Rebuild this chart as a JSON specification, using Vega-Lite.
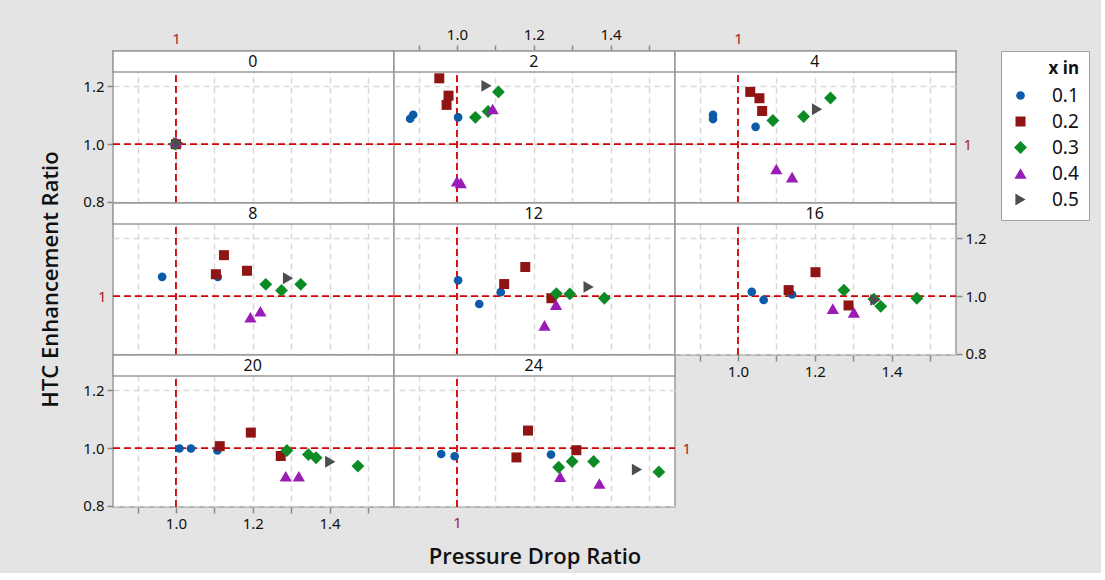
{
  "$schema": "https://vega.github.io/schema/vega-lite/v6.json",
  "background": "#e4e4e4",
  "padding": {"left": 38, "top": 26, "right": 11, "bottom": 5},
  "columns": 3,
  "spacing": 0,
  "bounds": "flush",
  "datasets": {
    "pts": [
      {"panel": "0", "x in": "0.1", "px": 1.0, "py": 1.0},
      {"panel": "0", "x in": "0.2", "px": 1.0, "py": 1.0},
      {"panel": "0", "x in": "0.3", "px": 0.998, "py": 1.0},
      {"panel": "0", "x in": "0.4", "px": 1.0, "py": 1.008},
      {"panel": "0", "x in": "0.5", "px": 1.006, "py": 1.004},

      {"panel": "2", "x in": "0.1", "px": 0.878, "py": 1.088},
      {"panel": "2", "x in": "0.1", "px": 0.886, "py": 1.102},
      {"panel": "2", "x in": "0.1", "px": 1.003, "py": 1.093},
      {"panel": "2", "x in": "0.2", "px": 0.954, "py": 1.228},
      {"panel": "2", "x in": "0.2", "px": 0.978, "py": 1.168},
      {"panel": "2", "x in": "0.2", "px": 0.973, "py": 1.136},
      {"panel": "2", "x in": "0.3", "px": 1.048, "py": 1.093},
      {"panel": "2", "x in": "0.3", "px": 1.081, "py": 1.113},
      {"panel": "2", "x in": "0.3", "px": 1.108, "py": 1.181},
      {"panel": "2", "x in": "0.4", "px": 1.093, "py": 1.122},
      {"panel": "2", "x in": "0.4", "px": 1.0, "py": 0.872},
      {"panel": "2", "x in": "0.4", "px": 1.01, "py": 0.866},
      {"panel": "2", "x in": "0.5", "px": 1.077, "py": 1.202},

      {"panel": "4", "x in": "0.1", "px": 0.935, "py": 1.102},
      {"panel": "4", "x in": "0.1", "px": 0.935, "py": 1.087},
      {"panel": "4", "x in": "0.1", "px": 1.046, "py": 1.06},
      {"panel": "4", "x in": "0.2", "px": 1.032, "py": 1.181},
      {"panel": "4", "x in": "0.2", "px": 1.056, "py": 1.159},
      {"panel": "4", "x in": "0.2", "px": 1.063, "py": 1.115},
      {"panel": "4", "x in": "0.3", "px": 1.091, "py": 1.082},
      {"panel": "4", "x in": "0.3", "px": 1.171, "py": 1.096},
      {"panel": "4", "x in": "0.3", "px": 1.241, "py": 1.16},
      {"panel": "4", "x in": "0.4", "px": 1.1, "py": 0.914},
      {"panel": "4", "x in": "0.4", "px": 1.141, "py": 0.886},
      {"panel": "4", "x in": "0.5", "px": 1.206, "py": 1.121},

      {"panel": "8", "x in": "0.1", "px": 0.964, "py": 1.067},
      {"panel": "8", "x in": "0.1", "px": 1.109, "py": 1.067},
      {"panel": "8", "x in": "0.2", "px": 1.125, "py": 1.142},
      {"panel": "8", "x in": "0.2", "px": 1.104, "py": 1.076},
      {"panel": "8", "x in": "0.2", "px": 1.185, "py": 1.088},
      {"panel": "8", "x in": "0.3", "px": 1.234, "py": 1.041},
      {"panel": "8", "x in": "0.3", "px": 1.275, "py": 1.02},
      {"panel": "8", "x in": "0.3", "px": 1.325, "py": 1.041},
      {"panel": "8", "x in": "0.4", "px": 1.194, "py": 0.927},
      {"panel": "8", "x in": "0.4", "px": 1.22, "py": 0.948},
      {"panel": "8", "x in": "0.5", "px": 1.292, "py": 1.062},

      {"panel": "12", "x in": "0.1", "px": 1.003, "py": 1.055},
      {"panel": "12", "x in": "0.1", "px": 1.058, "py": 0.973},
      {"panel": "12", "x in": "0.1", "px": 1.114, "py": 1.014},
      {"panel": "12", "x in": "0.2", "px": 1.123, "py": 1.042},
      {"panel": "12", "x in": "0.2", "px": 1.178, "py": 1.101},
      {"panel": "12", "x in": "0.2", "px": 1.246, "py": 0.993},
      {"panel": "12", "x in": "0.3", "px": 1.259, "py": 1.009},
      {"panel": "12", "x in": "0.3", "px": 1.294, "py": 1.008},
      {"panel": "12", "x in": "0.3", "px": 1.384, "py": 0.993},
      {"panel": "12", "x in": "0.4", "px": 1.258, "py": 0.971},
      {"panel": "12", "x in": "0.4", "px": 1.228, "py": 0.899},
      {"panel": "12", "x in": "0.5", "px": 1.343, "py": 1.032},

      {"panel": "16", "x in": "0.1", "px": 1.036, "py": 1.015},
      {"panel": "16", "x in": "0.1", "px": 1.067, "py": 0.987},
      {"panel": "16", "x in": "0.1", "px": 1.141, "py": 1.006},
      {"panel": "16", "x in": "0.2", "px": 1.132, "py": 1.021},
      {"panel": "16", "x in": "0.2", "px": 1.202, "py": 1.083},
      {"panel": "16", "x in": "0.2", "px": 1.288, "py": 0.968},
      {"panel": "16", "x in": "0.3", "px": 1.276, "py": 1.021},
      {"panel": "16", "x in": "0.3", "px": 1.354, "py": 0.99},
      {"panel": "16", "x in": "0.3", "px": 1.372, "py": 0.965},
      {"panel": "16", "x in": "0.3", "px": 1.466, "py": 0.993},
      {"panel": "16", "x in": "0.4", "px": 1.247, "py": 0.957},
      {"panel": "16", "x in": "0.4", "px": 1.302, "py": 0.944},
      {"panel": "16", "x in": "0.5", "px": 1.358, "py": 0.987},

      {"panel": "20", "x in": "0.1", "px": 1.009, "py": 0.999},
      {"panel": "20", "x in": "0.1", "px": 1.039, "py": 0.999},
      {"panel": "20", "x in": "0.1", "px": 1.108, "py": 0.992},
      {"panel": "20", "x in": "0.2", "px": 1.114, "py": 1.007},
      {"panel": "20", "x in": "0.2", "px": 1.195, "py": 1.054},
      {"panel": "20", "x in": "0.2", "px": 1.273, "py": 0.973},
      {"panel": "20", "x in": "0.3", "px": 1.289, "py": 0.992},
      {"panel": "20", "x in": "0.3", "px": 1.345, "py": 0.978},
      {"panel": "20", "x in": "0.3", "px": 1.365, "py": 0.967},
      {"panel": "20", "x in": "0.3", "px": 1.474, "py": 0.938},
      {"panel": "20", "x in": "0.4", "px": 1.286, "py": 0.903},
      {"panel": "20", "x in": "0.4", "px": 1.32, "py": 0.903},
      {"panel": "20", "x in": "0.5", "px": 1.402, "py": 0.953},

      {"panel": "24", "x in": "0.1", "px": 0.959, "py": 0.98},
      {"panel": "24", "x in": "0.1", "px": 0.994, "py": 0.972},
      {"panel": "24", "x in": "0.1", "px": 1.245, "py": 0.978},
      {"panel": "24", "x in": "0.2", "px": 1.185, "py": 1.061},
      {"panel": "24", "x in": "0.2", "px": 1.155, "py": 0.968},
      {"panel": "24", "x in": "0.2", "px": 1.311, "py": 0.993},
      {"panel": "24", "x in": "0.3", "px": 1.265, "py": 0.934},
      {"panel": "24", "x in": "0.3", "px": 1.3, "py": 0.954},
      {"panel": "24", "x in": "0.3", "px": 1.356, "py": 0.954},
      {"panel": "24", "x in": "0.3", "px": 1.526, "py": 0.918},
      {"panel": "24", "x in": "0.4", "px": 1.269, "py": 0.901},
      {"panel": "24", "x in": "0.4", "px": 1.371, "py": 0.878},
      {"panel": "24", "x in": "0.5", "px": 1.469, "py": 0.926}
    ],
    "one": [{}]
  },
  "concat": [
    {
      "width": 281, "height": 152,
      "layer": [
        {"data": {"name": "one"}, "mark": {"type": "rect", "fill": "white", "stroke": "#9a9a9a", "strokeWidth": 1.5},
         "encoding": {"x": {"datum": 0.836, "type": "quantitative"}, "x2": {"datum": 1.568}, "y": {"datum": 1.2497, "type": "quantitative"}, "y2": {"datum": 1.3225}}},
        {"data": {"name": "one"}, "mark": {"type": "text", "fontSize": 16, "color": "#111", "font": "Noto Sans", "baseline": "middle"},
         "encoding": {"x": {"datum": 1.2, "type": "quantitative"}, "y": {"datum": 1.286, "type": "quantitative"}, "text": {"value": "0"}}},
        {"data": {"name": "one"}, "mark": {"type": "rule", "color": "#d40000", "strokeDash": [7, 4], "strokeWidth": 1.8},
         "encoding": {"x": {"datum": 1, "type": "quantitative"}, "y": {"datum": 0.7965, "type": "quantitative"}, "y2": {"datum": 1.2497}}},
        {"data": {"name": "one"}, "mark": {"type": "rule", "color": "#d40000", "strokeDash": [7, 4], "strokeWidth": 1.8},
         "encoding": {"y": {"datum": 1, "type": "quantitative"}, "x": {"datum": 0.836, "type": "quantitative"}, "x2": {"datum": 1.568}}},
        {"data": {"name": "pts"}, "transform": [{"filter": "datum.panel == '0'"}],
         "mark": {"type": "point", "filled": true, "opacity": 1},
         "encoding": {
           "x": {"field": "px", "type": "quantitative", "scale": {"domain": [0.836, 1.568], "nice": false, "zero": false},
                 "axis": {"orient": "top", "values": [0.9, 1.0, 1.1, 1.2, 1.3, 1.4, 1.5], "grid": true, "ticks": false, "labelExpr": "datum.value == 1 ? '1' : ''", "labelColor": "#a3262a", "labelPadding": 5, "title": null}},
           "y": {"field": "py", "type": "quantitative", "scale": {"domain": [0.7965, 1.3225], "nice": false, "zero": false},
                 "axis": {"orient": "left", "values": [0.8, 0.9, 1.0, 1.1, 1.2], "grid": true, "ticks": true, "labelExpr": "round(datum.value*10) % 2 == 0 ? format(datum.value, '.1f') : ''", "title": null}},
           "color": {"field": "x in", "type": "nominal", "legend": {"title": "x in", "symbolSize": 190, "encode": {"symbols": {"enter": {"size": {"value": 190}}, "update": {"size": {"value": 190}}}}}},
           "shape": {"field": "x in", "type": "nominal", "legend": {"title": "x in", "symbolSize": 190, "encode": {"symbols": {"enter": {"size": {"value": 190}}, "update": {"size": {"value": 190}}}}}},
           "size": {"field": "x in", "type": "nominal", "scale": {"type": "ordinal", "range": [75, 100, 165, 150, 140]}, "legend": null}
         }}
      ]
    },
    {
      "width": 281, "height": 152,
      "layer": [
        {"data": {"name": "one"}, "mark": {"type": "rect", "fill": "white", "stroke": "#9a9a9a", "strokeWidth": 1.5},
         "encoding": {"x": {"datum": 0.836, "type": "quantitative"}, "x2": {"datum": 1.568}, "y": {"datum": 1.2497, "type": "quantitative"}, "y2": {"datum": 1.3225}}},
        {"data": {"name": "one"}, "mark": {"type": "text", "fontSize": 16, "color": "#111", "font": "Noto Sans", "baseline": "middle"},
         "encoding": {"x": {"datum": 1.2, "type": "quantitative"}, "y": {"datum": 1.286, "type": "quantitative"}, "text": {"value": "2"}}},
        {"data": {"name": "one"}, "mark": {"type": "rule", "color": "#d40000", "strokeDash": [7, 4], "strokeWidth": 1.8},
         "encoding": {"x": {"datum": 1, "type": "quantitative"}, "y": {"datum": 0.7965, "type": "quantitative"}, "y2": {"datum": 1.2497}}},
        {"data": {"name": "one"}, "mark": {"type": "rule", "color": "#d40000", "strokeDash": [7, 4], "strokeWidth": 1.8},
         "encoding": {"y": {"datum": 1, "type": "quantitative"}, "x": {"datum": 0.836, "type": "quantitative"}, "x2": {"datum": 1.568}}},
        {"data": {"name": "pts"}, "transform": [{"filter": "datum.panel == '2'"}],
         "mark": {"type": "point", "filled": true, "opacity": 1},
         "encoding": {
           "x": {"field": "px", "type": "quantitative", "scale": {"domain": [0.836, 1.568], "nice": false, "zero": false},
                 "axis": {"orient": "top", "values": [0.9, 1.0, 1.1, 1.2, 1.3, 1.4, 1.5], "grid": true, "ticks": true, "labelExpr": "round(datum.value*10) % 2 == 0 ? format(datum.value, '.1f') : ''", "title": null}},
           "y": {"field": "py", "type": "quantitative", "scale": {"domain": [0.7965, 1.3225], "nice": false, "zero": false},
                 "axis": {"orient": "left", "values": [0.8, 0.9, 1.0, 1.1, 1.2], "grid": true, "ticks": false, "labels": false, "title": null}},
           "color": {"field": "x in", "type": "nominal"},
           "shape": {"field": "x in", "type": "nominal"},
           "size": {"field": "x in", "type": "nominal", "scale": {"type": "ordinal", "range": [75, 100, 165, 150, 140]}, "legend": null}
         }}
      ]
    },
    {
      "width": 281, "height": 152,
      "layer": [
        {"data": {"name": "one"}, "mark": {"type": "rect", "fill": "white", "stroke": "#9a9a9a", "strokeWidth": 1.5},
         "encoding": {"x": {"datum": 0.836, "type": "quantitative"}, "x2": {"datum": 1.568}, "y": {"datum": 1.2497, "type": "quantitative"}, "y2": {"datum": 1.3225}}},
        {"data": {"name": "one"}, "mark": {"type": "text", "fontSize": 16, "color": "#111", "font": "Noto Sans", "baseline": "middle"},
         "encoding": {"x": {"datum": 1.2, "type": "quantitative"}, "y": {"datum": 1.286, "type": "quantitative"}, "text": {"value": "4"}}},
        {"data": {"name": "one"}, "mark": {"type": "rule", "color": "#d40000", "strokeDash": [7, 4], "strokeWidth": 1.8},
         "encoding": {"x": {"datum": 1, "type": "quantitative"}, "y": {"datum": 0.7965, "type": "quantitative"}, "y2": {"datum": 1.2497}}},
        {"data": {"name": "one"}, "mark": {"type": "rule", "color": "#d40000", "strokeDash": [7, 4], "strokeWidth": 1.8},
         "encoding": {"y": {"datum": 1, "type": "quantitative"}, "x": {"datum": 0.836, "type": "quantitative"}, "x2": {"datum": 1.568}}},
        {"data": {"name": "pts"}, "transform": [{"filter": "datum.panel == '4'"}],
         "mark": {"type": "point", "filled": true, "opacity": 1},
         "encoding": {
           "x": {"field": "px", "type": "quantitative", "scale": {"domain": [0.836, 1.568], "nice": false, "zero": false},
                 "axis": {"orient": "top", "values": [0.9, 1.0, 1.1, 1.2, 1.3, 1.4, 1.5], "grid": true, "ticks": false, "labelExpr": "datum.value == 1 ? '1' : ''", "labelColor": "#a3262a", "labelPadding": 5, "title": null}},
           "y": {"field": "py", "type": "quantitative", "scale": {"domain": [0.7965, 1.3225], "nice": false, "zero": false},
                 "axis": {"orient": "right", "values": [0.8, 0.9, 1.0, 1.1, 1.2], "grid": true, "ticks": false, "labelExpr": "datum.value == 1 ? '1' : ''", "labelColor": "#a3262a", "labelPadding": 7, "title": null}},
           "color": {"field": "x in", "type": "nominal"},
           "shape": {"field": "x in", "type": "nominal"},
           "size": {"field": "x in", "type": "nominal", "scale": {"type": "ordinal", "range": [75, 100, 165, 150, 140]}, "legend": null}
         }}
      ]
    },
    {
      "width": 281, "height": 152,
      "layer": [
        {"data": {"name": "one"}, "mark": {"type": "rect", "fill": "white", "stroke": "#9a9a9a", "strokeWidth": 1.5},
         "encoding": {"x": {"datum": 0.836, "type": "quantitative"}, "x2": {"datum": 1.568}, "y": {"datum": 1.2497, "type": "quantitative"}, "y2": {"datum": 1.3225}}},
        {"data": {"name": "one"}, "mark": {"type": "text", "fontSize": 16, "color": "#111", "font": "Noto Sans", "baseline": "middle"},
         "encoding": {"x": {"datum": 1.2, "type": "quantitative"}, "y": {"datum": 1.286, "type": "quantitative"}, "text": {"value": "8"}}},
        {"data": {"name": "one"}, "mark": {"type": "rule", "color": "#d40000", "strokeDash": [7, 4], "strokeWidth": 1.8},
         "encoding": {"x": {"datum": 1, "type": "quantitative"}, "y": {"datum": 0.7965, "type": "quantitative"}, "y2": {"datum": 1.2497}}},
        {"data": {"name": "one"}, "mark": {"type": "rule", "color": "#d40000", "strokeDash": [7, 4], "strokeWidth": 1.8},
         "encoding": {"y": {"datum": 1, "type": "quantitative"}, "x": {"datum": 0.836, "type": "quantitative"}, "x2": {"datum": 1.568}}},
        {"data": {"name": "pts"}, "transform": [{"filter": "datum.panel == '8'"}],
         "mark": {"type": "point", "filled": true, "opacity": 1},
         "encoding": {
           "x": {"field": "px", "type": "quantitative", "scale": {"domain": [0.836, 1.568], "nice": false, "zero": false},
                 "axis": {"orient": "bottom", "values": [0.9, 1.0, 1.1, 1.2, 1.3, 1.4, 1.5], "grid": true, "ticks": false, "labels": false, "title": null}},
           "y": {"field": "py", "type": "quantitative", "scale": {"domain": [0.7965, 1.3225], "nice": false, "zero": false},
                 "axis": {"orient": "left", "values": [0.8, 0.9, 1.0, 1.1, 1.2], "grid": true, "ticks": false, "labelExpr": "datum.value == 1 ? '1' : ''", "labelColor": "#a3262a", "labelPadding": 7, "title": "HTC Enhancement Ratio", "titlePadding": 35}},
           "color": {"field": "x in", "type": "nominal"},
           "shape": {"field": "x in", "type": "nominal"},
           "size": {"field": "x in", "type": "nominal", "scale": {"type": "ordinal", "range": [75, 100, 165, 150, 140]}, "legend": null}
         }}
      ]
    },
    {
      "width": 281, "height": 152,
      "layer": [
        {"data": {"name": "one"}, "mark": {"type": "rect", "fill": "white", "stroke": "#9a9a9a", "strokeWidth": 1.5},
         "encoding": {"x": {"datum": 0.836, "type": "quantitative"}, "x2": {"datum": 1.568}, "y": {"datum": 1.2497, "type": "quantitative"}, "y2": {"datum": 1.3225}}},
        {"data": {"name": "one"}, "mark": {"type": "text", "fontSize": 16, "color": "#111", "font": "Noto Sans", "baseline": "middle"},
         "encoding": {"x": {"datum": 1.2, "type": "quantitative"}, "y": {"datum": 1.286, "type": "quantitative"}, "text": {"value": "12"}}},
        {"data": {"name": "one"}, "mark": {"type": "rule", "color": "#d40000", "strokeDash": [7, 4], "strokeWidth": 1.8},
         "encoding": {"x": {"datum": 1, "type": "quantitative"}, "y": {"datum": 0.7965, "type": "quantitative"}, "y2": {"datum": 1.2497}}},
        {"data": {"name": "one"}, "mark": {"type": "rule", "color": "#d40000", "strokeDash": [7, 4], "strokeWidth": 1.8},
         "encoding": {"y": {"datum": 1, "type": "quantitative"}, "x": {"datum": 0.836, "type": "quantitative"}, "x2": {"datum": 1.568}}},
        {"data": {"name": "pts"}, "transform": [{"filter": "datum.panel == '12'"}],
         "mark": {"type": "point", "filled": true, "opacity": 1},
         "encoding": {
           "x": {"field": "px", "type": "quantitative", "scale": {"domain": [0.836, 1.568], "nice": false, "zero": false},
                 "axis": {"orient": "bottom", "values": [0.9, 1.0, 1.1, 1.2, 1.3, 1.4, 1.5], "grid": true, "ticks": false, "labels": false, "title": null}},
           "y": {"field": "py", "type": "quantitative", "scale": {"domain": [0.7965, 1.3225], "nice": false, "zero": false},
                 "axis": {"orient": "left", "values": [0.8, 0.9, 1.0, 1.1, 1.2], "grid": true, "ticks": false, "labels": false, "title": null}},
           "color": {"field": "x in", "type": "nominal"},
           "shape": {"field": "x in", "type": "nominal"},
           "size": {"field": "x in", "type": "nominal", "scale": {"type": "ordinal", "range": [75, 100, 165, 150, 140]}, "legend": null}
         }}
      ]
    },
    {
      "width": 281, "height": 152,
      "layer": [
        {"data": {"name": "one"}, "mark": {"type": "rect", "fill": "white", "stroke": "#9a9a9a", "strokeWidth": 1.5},
         "encoding": {"x": {"datum": 0.836, "type": "quantitative"}, "x2": {"datum": 1.568}, "y": {"datum": 1.2497, "type": "quantitative"}, "y2": {"datum": 1.3225}}},
        {"data": {"name": "one"}, "mark": {"type": "text", "fontSize": 16, "color": "#111", "font": "Noto Sans", "baseline": "middle"},
         "encoding": {"x": {"datum": 1.2, "type": "quantitative"}, "y": {"datum": 1.286, "type": "quantitative"}, "text": {"value": "16"}}},
        {"data": {"name": "one"}, "mark": {"type": "rule", "color": "#d40000", "strokeDash": [7, 4], "strokeWidth": 1.8},
         "encoding": {"x": {"datum": 1, "type": "quantitative"}, "y": {"datum": 0.7965, "type": "quantitative"}, "y2": {"datum": 1.2497}}},
        {"data": {"name": "one"}, "mark": {"type": "rule", "color": "#d40000", "strokeDash": [7, 4], "strokeWidth": 1.8},
         "encoding": {"y": {"datum": 1, "type": "quantitative"}, "x": {"datum": 0.836, "type": "quantitative"}, "x2": {"datum": 1.568}}},
        {"data": {"name": "pts"}, "transform": [{"filter": "datum.panel == '16'"}],
         "mark": {"type": "point", "filled": true, "opacity": 1},
         "encoding": {
           "x": {"field": "px", "type": "quantitative", "scale": {"domain": [0.836, 1.568], "nice": false, "zero": false},
                 "axis": {"orient": "bottom", "values": [0.9, 1.0, 1.1, 1.2, 1.3, 1.4, 1.5], "grid": true, "ticks": true, "labelExpr": "round(datum.value*10) % 2 == 0 ? format(datum.value, '.1f') : ''", "title": null}},
           "y": {"field": "py", "type": "quantitative", "scale": {"domain": [0.7965, 1.3225], "nice": false, "zero": false},
                 "axis": {"orient": "right", "values": [0.8, 0.9, 1.0, 1.1, 1.2], "grid": true, "ticks": true, "labelExpr": "round(datum.value*10) % 2 == 0 ? format(datum.value, '.1f') : ''", "title": null}},
           "color": {"field": "x in", "type": "nominal"},
           "shape": {"field": "x in", "type": "nominal"},
           "size": {"field": "x in", "type": "nominal", "scale": {"type": "ordinal", "range": [75, 100, 165, 150, 140]}, "legend": null}
         }}
      ]
    },
    {
      "width": 281, "height": 152,
      "layer": [
        {"data": {"name": "one"}, "mark": {"type": "rect", "fill": "white", "stroke": "#9a9a9a", "strokeWidth": 1.5},
         "encoding": {"x": {"datum": 0.836, "type": "quantitative"}, "x2": {"datum": 1.568}, "y": {"datum": 1.2497, "type": "quantitative"}, "y2": {"datum": 1.3225}}},
        {"data": {"name": "one"}, "mark": {"type": "text", "fontSize": 16, "color": "#111", "font": "Noto Sans", "baseline": "middle"},
         "encoding": {"x": {"datum": 1.2, "type": "quantitative"}, "y": {"datum": 1.286, "type": "quantitative"}, "text": {"value": "20"}}},
        {"data": {"name": "one"}, "mark": {"type": "rule", "color": "#d40000", "strokeDash": [7, 4], "strokeWidth": 1.8},
         "encoding": {"x": {"datum": 1, "type": "quantitative"}, "y": {"datum": 0.7965, "type": "quantitative"}, "y2": {"datum": 1.2497}}},
        {"data": {"name": "one"}, "mark": {"type": "rule", "color": "#d40000", "strokeDash": [7, 4], "strokeWidth": 1.8},
         "encoding": {"y": {"datum": 1, "type": "quantitative"}, "x": {"datum": 0.836, "type": "quantitative"}, "x2": {"datum": 1.568}}},
        {"data": {"name": "pts"}, "transform": [{"filter": "datum.panel == '20'"}],
         "mark": {"type": "point", "filled": true, "opacity": 1},
         "encoding": {
           "x": {"field": "px", "type": "quantitative", "scale": {"domain": [0.836, 1.568], "nice": false, "zero": false},
                 "axis": {"orient": "bottom", "values": [0.9, 1.0, 1.1, 1.2, 1.3, 1.4, 1.5], "grid": true, "ticks": true, "labelExpr": "round(datum.value*10) % 2 == 0 ? format(datum.value, '.1f') : ''", "title": null}},
           "y": {"field": "py", "type": "quantitative", "scale": {"domain": [0.7965, 1.3225], "nice": false, "zero": false},
                 "axis": {"orient": "left", "values": [0.8, 0.9, 1.0, 1.1, 1.2], "grid": true, "ticks": true, "labelExpr": "round(datum.value*10) % 2 == 0 ? format(datum.value, '.1f') : ''", "title": null}},
           "color": {"field": "x in", "type": "nominal"},
           "shape": {"field": "x in", "type": "nominal"},
           "size": {"field": "x in", "type": "nominal", "scale": {"type": "ordinal", "range": [75, 100, 165, 150, 140]}, "legend": null}
         }}
      ]
    },
    {
      "width": 281, "height": 152,
      "layer": [
        {"data": {"name": "one"}, "mark": {"type": "rect", "fill": "white", "stroke": "#9a9a9a", "strokeWidth": 1.5},
         "encoding": {"x": {"datum": 0.836, "type": "quantitative"}, "x2": {"datum": 1.568}, "y": {"datum": 1.2497, "type": "quantitative"}, "y2": {"datum": 1.3225}}},
        {"data": {"name": "one"}, "mark": {"type": "text", "fontSize": 16, "color": "#111", "font": "Noto Sans", "baseline": "middle"},
         "encoding": {"x": {"datum": 1.2, "type": "quantitative"}, "y": {"datum": 1.286, "type": "quantitative"}, "text": {"value": "24"}}},
        {"data": {"name": "one"}, "mark": {"type": "rule", "color": "#d40000", "strokeDash": [7, 4], "strokeWidth": 1.8},
         "encoding": {"x": {"datum": 1, "type": "quantitative"}, "y": {"datum": 0.7965, "type": "quantitative"}, "y2": {"datum": 1.2497}}},
        {"data": {"name": "one"}, "mark": {"type": "rule", "color": "#d40000", "strokeDash": [7, 4], "strokeWidth": 1.8},
         "encoding": {"y": {"datum": 1, "type": "quantitative"}, "x": {"datum": 0.836, "type": "quantitative"}, "x2": {"datum": 1.568}}},
        {"data": {"name": "pts"}, "transform": [{"filter": "datum.panel == '24'"}],
         "mark": {"type": "point", "filled": true, "opacity": 1},
         "encoding": {
           "x": {"field": "px", "type": "quantitative", "scale": {"domain": [0.836, 1.568], "nice": false, "zero": false},
                 "axis": {"orient": "bottom", "values": [0.9, 1.0, 1.1, 1.2, 1.3, 1.4, 1.5], "grid": true, "ticks": false, "labelExpr": "datum.value == 1 ? '1' : ''", "labelColor": "#a3262a", "labelPadding": 8, "title": "Pressure Drop Ratio", "titlePadding": 16}},
           "y": {"field": "py", "type": "quantitative", "scale": {"domain": [0.7965, 1.3225], "nice": false, "zero": false},
                 "axis": {"orient": "right", "values": [0.8, 0.9, 1.0, 1.1, 1.2], "grid": true, "ticks": false, "labelExpr": "datum.value == 1 ? '1' : ''", "labelColor": "#a3262a", "labelPadding": 7, "title": null}},
           "color": {"field": "x in", "type": "nominal"},
           "shape": {"field": "x in", "type": "nominal"},
           "size": {"field": "x in", "type": "nominal", "scale": {"type": "ordinal", "range": [75, 100, 165, 150, 140]}, "legend": null}
         }}
      ]
    }
  ],
  "config": {
    "font": "Noto Sans",
    "view": {"stroke": "#9a9a9a", "strokeWidth": 1.5, "fill": "white"},
    "axis": {
      "gridColor": "#d9d9d9", "gridDash": [6, 4], "gridWidth": 1.5,
      "tickColor": "#8a8a8a", "tickWidth": 1.5, "tickSize": 6,
      "labelFont": "Noto Sans", "labelFontSize": 15, "labelColor": "#111", "labelPadding": 3,
      "titleFont": "Open Sans", "titleFontWeight": 600, "titleFontSize": 22, "titleColor": "#111",
      "domain": false, "labelFlush": false, "labelOverlap": false
    },
    "range": {
      "category": ["#0b5ba8", "#8f1414", "#0b8a25", "#9a1cb6", "#4d4d4d"],
      "symbol": ["circle", "square", "diamond", "triangle-up", "triangle-right"]
    },
    "legend": {
      "orient": "right", "offset": 14,
      "strokeColor": "#a0a0a0", "fillColor": "white", "padding": 10,
      "titleFont": "Noto Sans", "titleFontSize": 17, "titleFontWeight": "bold", "titleColor": "#111", "titleAnchor": "end", "titlePadding": 8,
      "labelFont": "Noto Sans", "labelFontSize": 19, "labelColor": "#111", "labelOffset": 22,
      "symbolSize": 190, "symbolStrokeWidth": 0, "rowPadding": 6
    }
  }
}
